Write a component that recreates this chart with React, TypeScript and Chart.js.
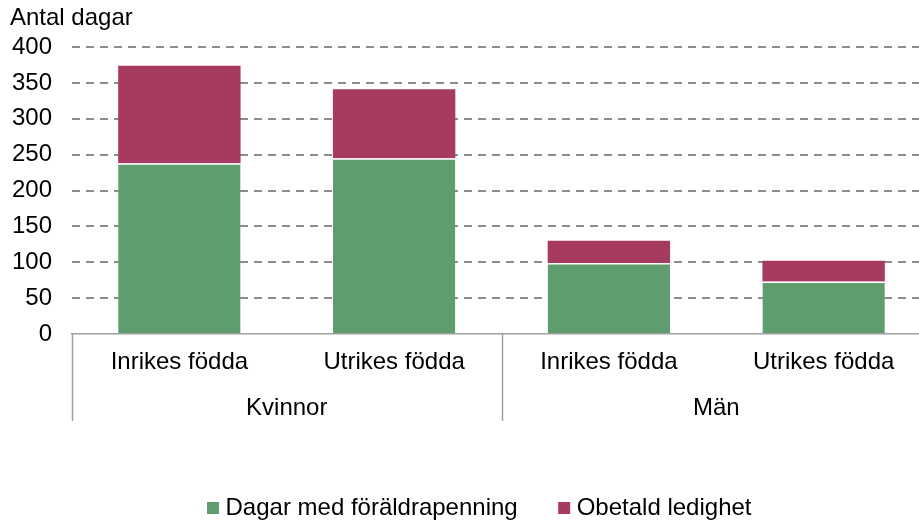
import React, { useEffect, useRef } from "react";
import { Chart, registerables } from "chart.js";

Chart.register(...registerables);

const categories = ["Inrikes födda", "Utrikes födda", "Inrikes födda", "Utrikes födda"];
const groups = ["Kvinnor", "Män"];
const groupSizes = [2, 2];
const paidDays = [238, 245, 99, 73];
const unpaidDays = [136, 96, 31, 29];
const seriesNames = ["Dagar med föräldrapenning", "Obetald ledighet"];
const yTitle = "Antal dagar";

const FONT = '"Liberation Sans", Arial, sans-serif';
const FS = 24;

const groupPlugin = {
  id: "groupAxis",
  afterLayout(chart: any) {
    if (chart.legend) {
      chart.legend.left = 33;
    }
  },
  afterDraw(chart: any) {
    const { ctx, chartArea } = chart;
    const x = chart.scales.x;
    const step = x.getPixelForValue(1) - x.getPixelForValue(0);
    const bottom = chartArea.bottom;
    ctx.save();
    ctx.strokeStyle = "#a0a0a0";
    ctx.lineWidth = 1.5;
    let idx = 0;
    const bounds: number[] = [x.getPixelForValue(0) - step / 2];
    groups.forEach((g, gi) => {
      const first = idx;
      const last = idx + groupSizes[gi] - 1;
      idx += groupSizes[gi];
      const cx = (x.getPixelForValue(first) + x.getPixelForValue(last)) / 2;
      bounds.push(x.getPixelForValue(last) + step / 2);
      ctx.fillStyle = "#000";
      ctx.font = `${FS}px ${FONT}`;
      ctx.textAlign = "center";
      ctx.textBaseline = "middle";
      ctx.fillText(g, cx, bottom + 74);
    });
    bounds.forEach((bx) => {
      const px = Math.round(bx) + 0.5;
      ctx.beginPath();
      ctx.moveTo(px, bottom);
      ctx.lineTo(px, bottom + 87);
      ctx.stroke();
    });
    ctx.fillStyle = "#000";
    ctx.font = `${FS}px ${FONT}`;
    ctx.textAlign = "left";
    ctx.textBaseline = "middle";
    ctx.fillText(yTitle, 10, 18);
    ctx.restore();
  },
};

export default function App() {
  const ref = useRef<HTMLCanvasElement>(null);
  useEffect(() => {
    const canvas = ref.current!;
    const chart = new Chart(canvas, {
      type: "bar",
      data: {
        labels: categories,
        datasets: [
          {
            label: seriesNames[0],
            data: paidDays,
            backgroundColor: "#5f9d6e",
            borderColor: "#ffffff",
            borderWidth: { top: 1.5, left: 0, right: 0, bottom: 0 },
          },
          {
            label: seriesNames[1],
            data: unpaidDays,
            backgroundColor: "#a63a61",
            borderColor: "#ffffff",
            borderWidth: { top: 0, left: 0, right: 0, bottom: 0 },
          },
        ],
      },
      options: {
        responsive: false,
        animation: false,
        layout: { padding: { left: 0, right: 4, top: 47, bottom: -10 } },
        datasets: { bar: { categoryPercentage: 1, barPercentage: 0.57 } },
        plugins: {
          tooltip: { enabled: false },
          legend: {
            position: "bottom",
            labels: {
              font: { size: FS, family: FONT },
              color: "#000",
              usePointStyle: true,
              pointStyle: "rect",
              boxWidth: 1,
              boxHeight: 12,
              padding: 46,
              generateLabels: (c: any) =>
                Chart.defaults.plugins.legend.labels.generateLabels(c).map((l: any) => ({
                  ...l,
                  pointStyle: "rect",
                  lineWidth: 0,
                  strokeStyle: "rgba(0,0,0,0)",
                })),
            },
          },
        },
        scales: {
          x: {
            stacked: true,
            afterFit: (s: any) => {
              const lh = s.chart.legend ? s.chart.legend.height : 64;
              s.height = s.chart.height + 10 - 334 - lh;
            },
            grid: { display: false, drawTicks: false },
            border: { display: true, color: "#a0a0a0", width: 1.5 },
            ticks: {
              font: { size: FS, family: FONT },
              color: "#000",
              padding: 14,
              maxRotation: 0,
              autoSkip: false,
            },
          },
          y: {
            stacked: true,
            min: 0,
            max: 400,
            afterFit: (s: any) => {
              s.width = 72;
            },
            grid: {
              drawTicks: false,
              color: (c: any) => (c.tick && c.tick.value === 0 ? "rgba(0,0,0,0)" : "#8c8c8c"),
              lineWidth: 2,
            },
            border: { display: false, dash: [8, 6] },
            ticks: {
              stepSize: 50,
              font: { size: FS, family: FONT },
              color: "#000",
              padding: 20,
            },
          },
        },
      },
      plugins: [groupPlugin],
    });
    return () => chart.destroy();
  }, []);
  return (
    <div
      style={{
        position: "fixed",
        left: 0,
        top: 0,
        width: 919,
        height: 520,
        overflow: "hidden",
        background: "#fff",
      }}
    >
      <canvas ref={ref} width={935} height={520} />
    </div>
  );
}
